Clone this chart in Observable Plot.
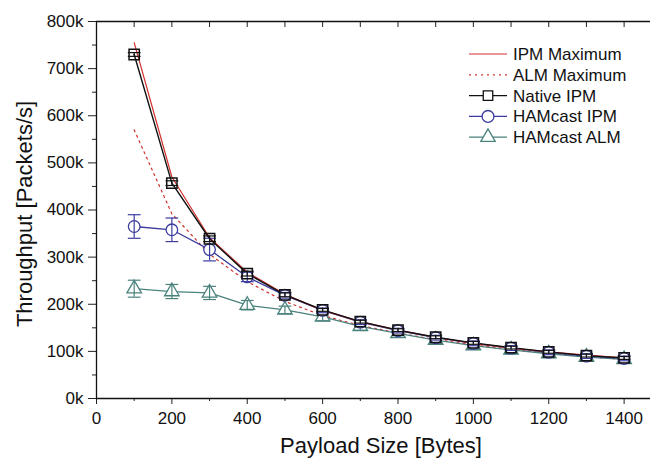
<!DOCTYPE html>
<html><head><meta charset="utf-8">
<script src="https://cdn.jsdelivr.net/npm/d3@7"></script>
<script src="https://cdn.jsdelivr.net/npm/@observablehq/plot@0.6"></script>
<style>
html,body{margin:0;padding:0;background:#fff;}
#chart{width:650px;height:463px;overflow:hidden;position:relative;}
</style></head><body><div id="chart"></div>
<script>
// Payload sizes [Bytes]
const payload = [100,200,300,400,500,600,700,800,900,1000,1100,1200,1300,1400];
// Throughput in thousands of packets/s (k)
const ipmMax    = [755,470,341,268,221,187,163,145,130,117,107,99,92,86];
const almMax    = [570,392,306,248,206,176,155,139,125,114,104,96,89,83];
const nativeIpm = [730,457,339,265,220,188,163,145,130,118,108,99,91,86];
const nativeErr = [4,5,6,5,4,3,3,3,3,3,3,3,3,3];
const hamIpm    = [365,358,316,258,219,187,162,144,129,117,107,98,90,85];
const hamIpmErr = [25,25,24,10,6,5,5,5,5,5,5,5,5,5];
const hamAlm    = [233,227,224,198,188,173,153,138,124,112,103,95,88,83];
const hamAlmErr = [18,15,14,10,8,8,8,8,8,8,8,8,8,8];
const xTicks = [0,200,400,600,800,1000,1200,1400];
const yTicks = [0,100,200,300,400,500,600,700,800];
const seriesNames = ["IPM Maximum","ALM Maximum","Native IPM","HAMcast IPM","HAMcast ALM"];

const RED = "#d0302c", BLACK = "#111", BLUE = "#3b3c9e", TEAL = "#4b827d";
const FONT = "'Liberation Sans', Arial, sans-serif";

const rows = payload.map((p,i)=>({p, ipmMax:ipmMax[i], almMax:almMax[i], nat:nativeIpm[i], natE:nativeErr[i],
  hi:hamIpm[i], hiE:hamIpmErr[i], ha:hamAlm[i], haE:hamAlmErr[i]}));

const cap = {draw(ctx, size){ const w = Math.sqrt(size); ctx.moveTo(-w,0); ctx.lineTo(w,0); }};
const blank = () => "";

function errMarks(key, ekey, color){
  return [
    Plot.ruleX(rows, {x:"p", y1:d=>d[key]-d[ekey], y2:d=>d[key]+d[ekey], stroke:color, strokeWidth:1.2}),
    Plot.dot(rows, {x:"p", y:d=>d[key]-d[ekey], symbol:cap, r:3.6, stroke:color, strokeWidth:1.2}),
    Plot.dot(rows, {x:"p", y:d=>d[key]+d[ekey], symbol:cap, r:3.6, stroke:color, strokeWidth:1.2})
  ];
}

const plot = Plot.plot({
  width:650, height:463,
  marginLeft:96, marginRight:0, marginTop:21, marginBottom:65,
  style:{fontFamily:FONT, background:"#fff", color:"#111"},
  x:{domain:[0,1470]},
  y:{domain:[0,800]},
  marks:[
    Plot.axisX({ticks:xTicks, tickSize:6, tickPadding:7, fontSize:17, tickFormat:d=>String(d), label:null, stroke:"#222"}),
    Plot.axisX({ticks:d3.range(100,1500,200), tickSize:3, tickFormat:blank, label:null, stroke:"#222"}),
    Plot.axisX({anchor:"top", ticks:d3.range(100,1500,100), tickSize:-5, tickFormat:blank, label:null, stroke:"#222"}),
    Plot.axisY({ticks:yTicks, tickSize:8, tickPadding:5, fontSize:17, tickFormat:d=>d+"k", label:null, stroke:"#222"}),
    Plot.axisY({ticks:d3.range(50,800,100), tickSize:4, tickFormat:blank, label:null, stroke:"#222"}),
    Plot.ruleX([0], {stroke:"#111", strokeWidth:1.3}),
    Plot.ruleY([0], {stroke:"#111", strokeWidth:1.3}),
    Plot.ruleY([800], {stroke:"#111", strokeWidth:1.3}),
    Plot.line(rows, {x:"p", y:"almMax", stroke:RED, strokeWidth:1.2, strokeDasharray:"2,4"}),
    Plot.line(rows, {x:"p", y:"ha", stroke:TEAL, strokeWidth:1.3}),
    Plot.line(rows, {x:"p", y:"hi", stroke:BLUE, strokeWidth:1.3}),
    Plot.line(rows, {x:"p", y:"ipmMax", stroke:RED, strokeWidth:1.2}),
    Plot.line(rows, {x:"p", y:"nat", stroke:BLACK, strokeWidth:1.4}),
    Plot.dot(rows, {x:"p", y:"ha", symbol:"triangle", r:5.4, fill:"#fff", stroke:TEAL, strokeWidth:1.3}),
    ...errMarks("ha","haE",TEAL),
    Plot.dot(rows, {x:"p", y:"hi", symbol:"circle", r:5.8, fill:"#fff", stroke:BLUE, strokeWidth:1.3}),
    ...errMarks("hi","hiE",BLUE),
    Plot.dot(rows, {x:"p", y:"nat", symbol:"square", r:5.8, fill:"#fff", fillOpacity:0, stroke:BLACK, strokeWidth:1.5}),
    ...errMarks("nat","natE",BLACK)
  ]
});
document.getElementById("chart").appendChild(plot);

// Titles and legend
const svg = d3.select(plot);
svg.append("text").attr("x",381).attr("y",445).attr("text-anchor","middle").attr("dy","0.35em")
  .attr("font-family",FONT).attr("font-size",22).attr("fill","#111").text("Payload Size [Bytes]");
svg.append("text").attr("transform","translate(24,214) rotate(-90)").attr("text-anchor","middle").attr("dy","0.35em")
  .attr("font-family",FONT).attr("font-size",22).attr("fill","#111").text("Throughput [Packets/s]");

const leg = svg.append("g");
const styles = [
  {c:RED, dash:null, sym:null},
  {c:RED, dash:"2,4", sym:null},
  {c:BLACK, dash:null, sym:d3.symbolSquare, size:90},
  {c:BLUE, dash:null, sym:d3.symbolCircle, size:110},
  {c:TEAL, dash:null, sym:d3.symbolTriangle, size:90}
];
seriesNames.forEach((name,i)=>{
  const y = 54 + i*20.8, s = styles[i];
  leg.append("line").attr("x1",469).attr("x2",507).attr("y1",y).attr("y2",y)
    .attr("stroke",s.c).attr("stroke-width",1.2).attr("stroke-dasharray",s.dash);
  if (s.sym) leg.append("path").attr("d",d3.symbol(s.sym,s.size)()).attr("transform",`translate(488,${y})`)
    .attr("fill","#fff").attr("stroke",s.c).attr("stroke-width",1.3);
  leg.append("text").attr("x",513).attr("y",y).attr("dy","0.35em").attr("text-anchor","start")
    .attr("font-family",FONT).attr("font-size",17).attr("fill","#111").text(name);
});
</script></body></html>
